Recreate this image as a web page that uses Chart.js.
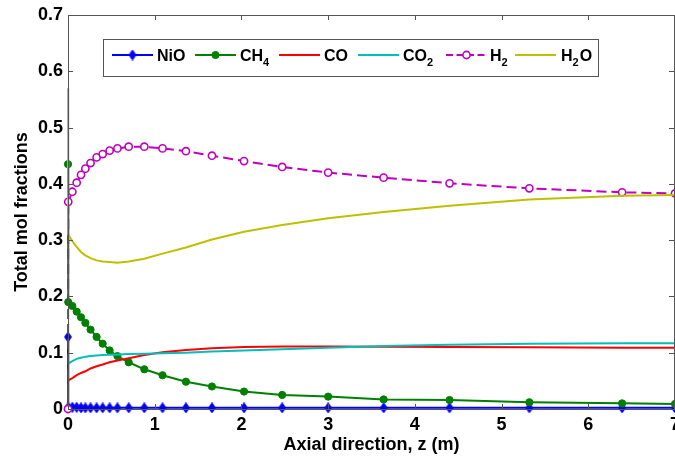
<!DOCTYPE html>
<html><head><meta charset="utf-8">
<script src="https://cdn.jsdelivr.net/npm/chart.js@4.4.1/dist/chart.umd.min.js"></script>
<style>html,body{margin:0;padding:0;background:#fff;}#wrap{width:675px;height:457px;position:relative;}</style>
</head><body><div id="wrap"><canvas id="c" width="675" height="457"></canvas></div>
<script>
// ---- data ----
const zAxial = [0, 0.003, 0.05, 0.10, 0.15, 0.20, 0.26, 0.33, 0.40, 0.48, 0.57, 0.70, 0.88, 1.09, 1.36, 1.66, 2.03, 2.47, 3.00, 3.64, 4.40, 5.32, 6.39, 7.00];
const NiO  = [0.128, 0.003, 0.003, 0.003, 0.002, 0.002, 0.002, 0.002, 0.002, 0.002, 0.002, 0.002, 0.002, 0.002, 0.002, 0.002, 0.002, 0.002, 0.002, 0.002, 0.002, 0.002, 0.002, 0.002];
const CH4  = [0.435, 0.190, 0.183, 0.173, 0.163, 0.153, 0.141, 0.128, 0.116, 0.104, 0.094, 0.083, 0.0705, 0.060, 0.0485, 0.040, 0.031, 0.025, 0.022, 0.017, 0.016, 0.012, 0.010, 0.009];
const CO   = [0.050, 0.051, 0.055, 0.060, 0.064, 0.067, 0.072, 0.076, 0.079, 0.083, 0.086, 0.090, 0.096, 0.101, 0.105, 0.108, 0.110, 0.111, 0.111, 0.1105, 0.110, 0.1095, 0.109, 0.109];
const CO2  = [0.080, 0.081, 0.085, 0.089, 0.091, 0.093, 0.094, 0.095, 0.096, 0.0965, 0.097, 0.0975, 0.098, 0.099, 0.100, 0.102, 0.104, 0.106, 0.109, 0.112, 0.114, 0.116, 0.117, 0.117];
const H2   = [0.000, 0.368, 0.386, 0.402, 0.416, 0.427, 0.437, 0.447, 0.453, 0.459, 0.463, 0.466, 0.466, 0.463, 0.458, 0.450, 0.4405, 0.430, 0.420, 0.411, 0.401, 0.392, 0.385, 0.383];
const H2O  = [0.570, 0.310, 0.298, 0.288, 0.279, 0.273, 0.268, 0.264, 0.262, 0.261, 0.260, 0.262, 0.267, 0.276, 0.287, 0.301, 0.315, 0.327, 0.339, 0.350, 0.361, 0.372, 0.379, 0.380];
const xTicks = [0, 1, 2, 3, 4, 5, 6, 7];
const yTicks = [0, 0.1, 0.2, 0.3, 0.4, 0.5, 0.6, 0.7];
const seriesNames = ['NiO', 'CH4', 'CO', 'CO2', 'H2', 'H2O'];
const seriesValues = [NiO, CH4, CO, CO2, H2, H2O];

// ---- styles ----
const FONT = '"Liberation Sans", Arial, Helvetica, sans-serif';
const colors = ['#0000ff', '#008000', '#ff0000', '#00bfbf', '#bf00bf', '#bfbf00'];

function diamond(color) {
  const c = document.createElement('canvas');
  c.width = 8; c.height = 11;
  const g = c.getContext('2d');
  g.fillStyle = color; g.strokeStyle = color; g.lineWidth = 1;
  g.beginPath(); g.moveTo(4, 0.5); g.lineTo(7.5, 5.5); g.lineTo(4, 10.5); g.lineTo(0.5, 5.5); g.closePath();
  g.fill(); g.stroke();
  return c;
}
const diamondImg = diamond('#0000ff');

const styles = [
  {pointStyle: diamondImg, pointRadius: 4},
  {pointStyle: 'circle', pointRadius: 3.6, pointBackgroundColor: '#008000', pointBorderWidth: 1},
  {pointRadius: 0},
  {pointRadius: 0},
  {pointStyle: 'circle', pointRadius: 3.6, pointBackgroundColor: '#ffffff', pointBorderWidth: 1.6, borderDash: [10, 5]},
  {pointRadius: 0}
];

const datasets = seriesNames.map((name, i) => Object.assign({
  label: name,
  data: zAxial.map((z, k) => ({x: z, y: seriesValues[i][k]})),
  borderColor: colors[i],
  pointBorderColor: colors[i],
  borderWidth: 2,
  tension: 0,
  clip: false,
  order: seriesNames.length - 1 - i
}, styles[i]));

const legendLabels = [
  [['NiO', 0]],
  [['CH', 0], ['4', 1]],
  [['CO', 0]],
  [['CO', 0], ['2', 1]],
  [['H', 0], ['2', 1]],
  [['H', 0], ['2', 1], ['O', 0]]
];

const framePlugin = {
  id: 'frame',
  afterDatasetsDraw(chart) {
    const {ctx, chartArea: a, scales} = chart;
    ctx.save();
    ctx.strokeStyle = '#555'; ctx.lineWidth = 1;
    ctx.strokeRect(Math.round(a.left) + 0.5, Math.round(a.top) + 0.5, Math.round(a.right - a.left) - 1, Math.round(a.bottom - a.top));
    ctx.beginPath();
    const tl = 5;
    xTicks.forEach(v => {
      const x = Math.round(scales.x.getPixelForValue(v)) + 0.5;
      ctx.moveTo(x, a.bottom); ctx.lineTo(x, a.bottom - tl);
      ctx.moveTo(x, a.top); ctx.lineTo(x, a.top + tl);
    });
    yTicks.forEach(v => {
      const y = Math.round(scales.y.getPixelForValue(v)) + 0.5;
      ctx.moveTo(a.left, y); ctx.lineTo(a.left + tl, y);
      ctx.moveTo(a.right - 1, y); ctx.lineTo(a.right - 1 - tl, y);
    });
    ctx.stroke();
    // x tick labels
    ctx.fillStyle = '#000';
    ctx.font = 'bold 18px ' + FONT;
    ctx.textAlign = 'center';
    ctx.textBaseline = 'middle';
    xTicks.forEach(v => {
      ctx.fillText(String(v), scales.x.getPixelForValue(v), a.bottom + 16);
    });
    ctx.restore();
  },
  afterDraw(chart) {
    const ctx = chart.ctx;
    ctx.save();
    const bx = 103, by = 39, bw = 495, bh = 37;
    ctx.fillStyle = '#fff';
    ctx.fillRect(bx, by, bw, bh);
    ctx.strokeStyle = '#555'; ctx.lineWidth = 1;
    ctx.strokeRect(bx + 0.5, by + 0.5, bw, bh);
    const lineX = [112, 195, 279, 358, 446, 515];
    const textX = [157, 240, 324, 403, 490, 561];
    const ly = 55;
    chart.data.datasets.forEach((ds, i) => {
      const x0 = lineX[i], x1 = x0 + 41;
      ctx.save();
      ctx.strokeStyle = ds.borderColor; ctx.lineWidth = 2;
      if (ds.borderDash) ctx.setLineDash(ds.borderDash.map(d => d * 0.7));
      ctx.beginPath(); ctx.moveTo(x0, ly); ctx.lineTo(x1, ly); ctx.stroke();
      ctx.restore();
      const mx = (x0 + x1) / 2;
      if (ds.pointRadius > 0) {
        ctx.save();
        ctx.fillStyle = ds.pointBackgroundColor || ds.borderColor;
        ctx.strokeStyle = ds.borderColor;
        ctx.lineWidth = ds.pointBorderWidth || 1;
        if (ds.pointStyle === 'circle') {
          ctx.beginPath(); ctx.arc(mx, ly, ds.pointRadius, 0, Math.PI * 2); ctx.fill(); ctx.stroke();
        } else {
          ctx.drawImage(ds.pointStyle, mx - ds.pointStyle.width / 2, ly - ds.pointStyle.height / 2);
        }
        ctx.restore();
      }
      let tx = textX[i];
      ctx.fillStyle = '#000';
      ctx.textBaseline = 'alphabetic';
      ctx.textAlign = 'left';
      legendLabels[i].forEach(([t, sub]) => {
        ctx.font = sub ? 'bold 11px ' + FONT : 'bold 16px ' + FONT;
        ctx.fillText(t, tx, sub ? ly + 11 : ly + 6);
        tx += ctx.measureText(t).width + (sub ? 1 : 0);
      });
    });
    ctx.restore();
  }
};

new Chart(document.getElementById('c'), {
  type: 'line',
  data: {datasets},
  options: {
    responsive: false,
    animation: false,
    devicePixelRatio: 1,
    layout: {autoPadding: false, padding: {top: 15, right: 0, left: 0, bottom: 0}},
    plugins: {legend: {display: false}, tooltip: {enabled: false}},
    scales: {
      x: {
        type: 'linear', min: 0, max: 7,
        afterBuildTicks: s => { s.ticks = xTicks.map(v => ({value: v})); },
        ticks: {display: false},
        grid: {display: false, drawTicks: false},
        border: {display: false},
        title: {display: true, text: 'Axial direction, z (m)', color: '#000', font: {family: FONT, size: 18, weight: 'bold'}, padding: {top: 0, bottom: 1}},
        afterFit: s => { s.height = 48; s.paddingLeft = 0; s.paddingRight = 0; }
      },
      y: {
        type: 'linear', min: 0, max: 0.7,
        afterBuildTicks: s => { s.ticks = yTicks.map(v => ({value: v})); },
        ticks: {color: '#000', font: {family: FONT, size: 18, weight: 'bold'}, padding: 5},
        grid: {display: false, drawTicks: false},
        border: {display: false},
        title: {display: true, text: 'Total mol fractions', color: '#000', font: {family: FONT, size: 18, weight: 'bold'}, padding: {top: 11, bottom: 0}},
        afterFit: s => { s.width = 68; s.paddingTop = 0; s.paddingBottom = 0; }
      }
    }
  },
  plugins: [framePlugin]
});
</script>
</body></html>
